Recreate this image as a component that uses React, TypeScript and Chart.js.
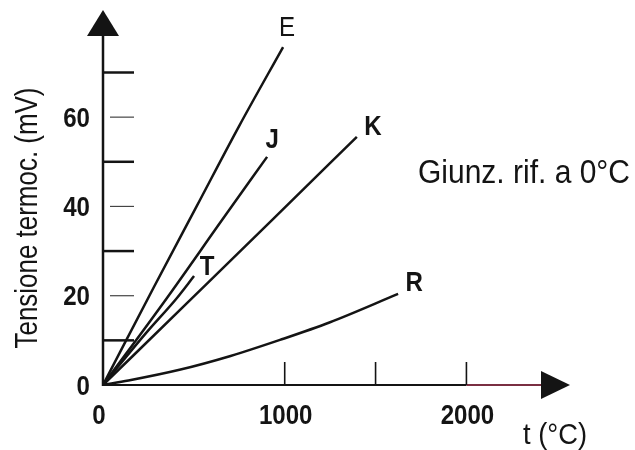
import React, { useEffect, useRef } from "react";
import { Chart, registerables } from "chart.js";

Chart.register(...registerables);

// ---- data ----
const tempE = [0, 281, 515, 749, 991];
const mvE = [0, 22.0, 40.0, 58.0, 75.7];
const tempJ = [0, 352, 656, 903];
const mvJ = [0, 19.5, 37.0, 51.1];
const tempK = [0, 479, 937, 1397];
const mvK = [0, 19.0, 37.2, 55.6];
const tempT = [0, 234, 407, 501];
const mvT = [0, 11.5, 19.5, 24.4];
const tempR = [0, 140, 421, 702, 974, 1246, 1624];
const mvR = [0, 1.0, 3.4, 6.5, 10.1, 14.0, 20.4];

const yLabelTicks = [0, 20, 40, 60];
const yLongTicks = [10, 30, 50, 70];
const yShortTicks = [20, 40, 60];
const xLabelTicks = [0, 1000, 2000];
const xMarkTicks = [1000, 1500, 2000];

const X_MAX = 2570;
const Y_MAX = 84;

const yTitle = "Tensione termoc. (mV)";
const xTitle = "t (°C)";
const note = "Giunz. rif. a 0°C";

const FONT = '"Liberation Sans", Arial, sans-serif';
const INK = "#141414";
const NARROW = 0.86;

const toPts = (xs: number[], ys: number[]) => xs.map((x, i) => ({ x, y: ys[i] }));

const allSeries = [
  { name: "E", pts: toPts(tempE, mvE), off: [4, -19], bold: false },
  { name: "J", pts: toPts(tempJ, mvJ), off: [5, -17], bold: true },
  { name: "K", pts: toPts(tempK, mvK), off: [16, -10], bold: true },
  { name: "T", pts: toPts(tempT, mvT), off: [13, -9], bold: true },
  { name: "R", pts: toPts(tempR, mvR), off: [16, -11], bold: true },
];

function narrowText(
  ctx: CanvasRenderingContext2D,
  text: string,
  x: number,
  y: number,
  align: "left" | "center" | "right",
  sx: number,
  rot = 0
) {
  ctx.save();
  ctx.translate(x, y);
  if (rot) ctx.rotate(rot);
  ctx.scale(sx, 1);
  ctx.textAlign = align;
  ctx.textBaseline = "middle";
  ctx.fillText(text, 0, 0);
  ctx.restore();
}

function fitScale(ctx: CanvasRenderingContext2D, text: string, width: number) {
  const w = ctx.measureText(text).width;
  return w > 0 ? width / w : 1;
}

const decorPlugin = {
  id: "decor",
  afterDraw(chart: any) {
    const ctx = chart.ctx as CanvasRenderingContext2D;
    const xs = chart.scales.x;
    const ys = chart.scales.y;
    const x0 = xs.getPixelForValue(0);
    const y0 = ys.getPixelForValue(0);
    const xTip = xs.getPixelForValue(X_MAX);
    const yTip = ys.getPixelForValue(Y_MAX);
    ctx.save();
    ctx.strokeStyle = INK;
    ctx.fillStyle = INK;
    ctx.lineCap = "butt";

    // y axis
    ctx.lineWidth = 2.5;
    ctx.beginPath();
    ctx.moveTo(x0, y0 + 1);
    ctx.lineTo(x0, yTip + 24);
    ctx.stroke();
    ctx.beginPath();
    ctx.moveTo(x0, yTip);
    ctx.lineTo(x0 - 16, yTip + 26);
    ctx.lineTo(x0 + 16, yTip + 26);
    ctx.closePath();
    ctx.fill();

    // x axis
    const x2000 = xs.getPixelForValue(2000);
    ctx.lineWidth = 2.2;
    ctx.beginPath();
    ctx.moveTo(x0 - 1, y0);
    ctx.lineTo(x2000, y0);
    ctx.stroke();
    ctx.strokeStyle = "#7a2f42";
    ctx.lineWidth = 1.8;
    ctx.beginPath();
    ctx.moveTo(x2000, y0);
    ctx.lineTo(xTip - 26, y0);
    ctx.stroke();
    ctx.strokeStyle = INK;
    ctx.beginPath();
    ctx.moveTo(xTip, y0);
    ctx.lineTo(xTip - 29, y0 - 14);
    ctx.lineTo(xTip - 29, y0 + 14);
    ctx.closePath();
    ctx.fill();

    // y ticks
    ctx.lineWidth = 2.5;
    for (const v of yLongTicks) {
      const py = ys.getPixelForValue(v);
      ctx.beginPath();
      ctx.moveTo(x0, py);
      ctx.lineTo(x0 + 31, py);
      ctx.stroke();
    }
    ctx.lineWidth = 1.2;
    ctx.strokeStyle = "#444";
    for (const v of yShortTicks) {
      const py = ys.getPixelForValue(v);
      ctx.beginPath();
      ctx.moveTo(x0 + 7, py);
      ctx.lineTo(x0 + 31, py);
      ctx.stroke();
    }
    ctx.strokeStyle = INK;
    // x ticks
    ctx.lineWidth = 1.6;
    for (const v of xMarkTicks) {
      const px = xs.getPixelForValue(v);
      ctx.beginPath();
      ctx.moveTo(px, y0);
      ctx.lineTo(px, y0 - 23);
      ctx.stroke();
    }

    // tick labels
    ctx.font = `bold 28px ${FONT}`;
    for (const v of yLabelTicks) {
      narrowText(ctx, String(v), x0 - 13, ys.getPixelForValue(v) + 2, "right", NARROW);
    }
    for (const v of xLabelTicks) {
      const px = xs.getPixelForValue(v) + (v === 0 ? -4 : 1);
      narrowText(ctx, String(v), px, y0 + 31, "center", NARROW);
    }

    // axis titles
    ctx.font = `29px ${FONT}`;
    narrowText(ctx, xTitle, 555, y0 + 51, "center", fitScale(ctx, xTitle, 64));
    ctx.font = `32px ${FONT}`;
    narrowText(ctx, yTitle, 28, 218, "center", fitScale(ctx, yTitle, 261), -Math.PI / 2);

    // note
    ctx.font = `34px ${FONT}`;
    narrowText(ctx, note, 418, 174, "left", fitScale(ctx, note, 212));

    // curve labels
    for (const s of allSeries) {
      const last = s.pts[s.pts.length - 1];
      ctx.font = `${s.bold ? "bold " : ""}28px ${FONT}`;
      narrowText(
        ctx,
        s.name,
        xs.getPixelForValue(last.x) + s.off[0],
        ys.getPixelForValue(last.y) + s.off[1],
        "center",
        NARROW
      );
    }
    ctx.restore();
  },
};

export default function App() {
  const ref = useRef<HTMLCanvasElement | null>(null);
  useEffect(() => {
    if (!ref.current) return;
    const chart = new Chart(ref.current, {
      type: "line",
      data: {
        datasets: allSeries.map((s) => ({
          label: s.name,
          data: s.pts,
          borderColor: INK,
          borderWidth: 2.5,
          pointRadius: 0,
          fill: false,
          cubicInterpolationMode: "monotone" as const,
        })),
      },
      options: {
        responsive: false,
        animation: false,
        layout: { padding: { left: 103, right: 65, top: 10, bottom: 65 } },
        plugins: { legend: { display: false }, tooltip: { enabled: false } },
        scales: {
          x: { type: "linear", min: 0, max: X_MAX, display: false },
          y: { type: "linear", min: 0, max: Y_MAX, display: false },
        },
      },
      plugins: [decorPlugin],
    });
    return () => chart.destroy();
  }, []);
  return (
    <div style={{ position: "absolute", left: 0, top: 0, width: 635, height: 450, background: "#fff" }}>
      <canvas ref={ref} width={635} height={450} />
    </div>
  );
}
